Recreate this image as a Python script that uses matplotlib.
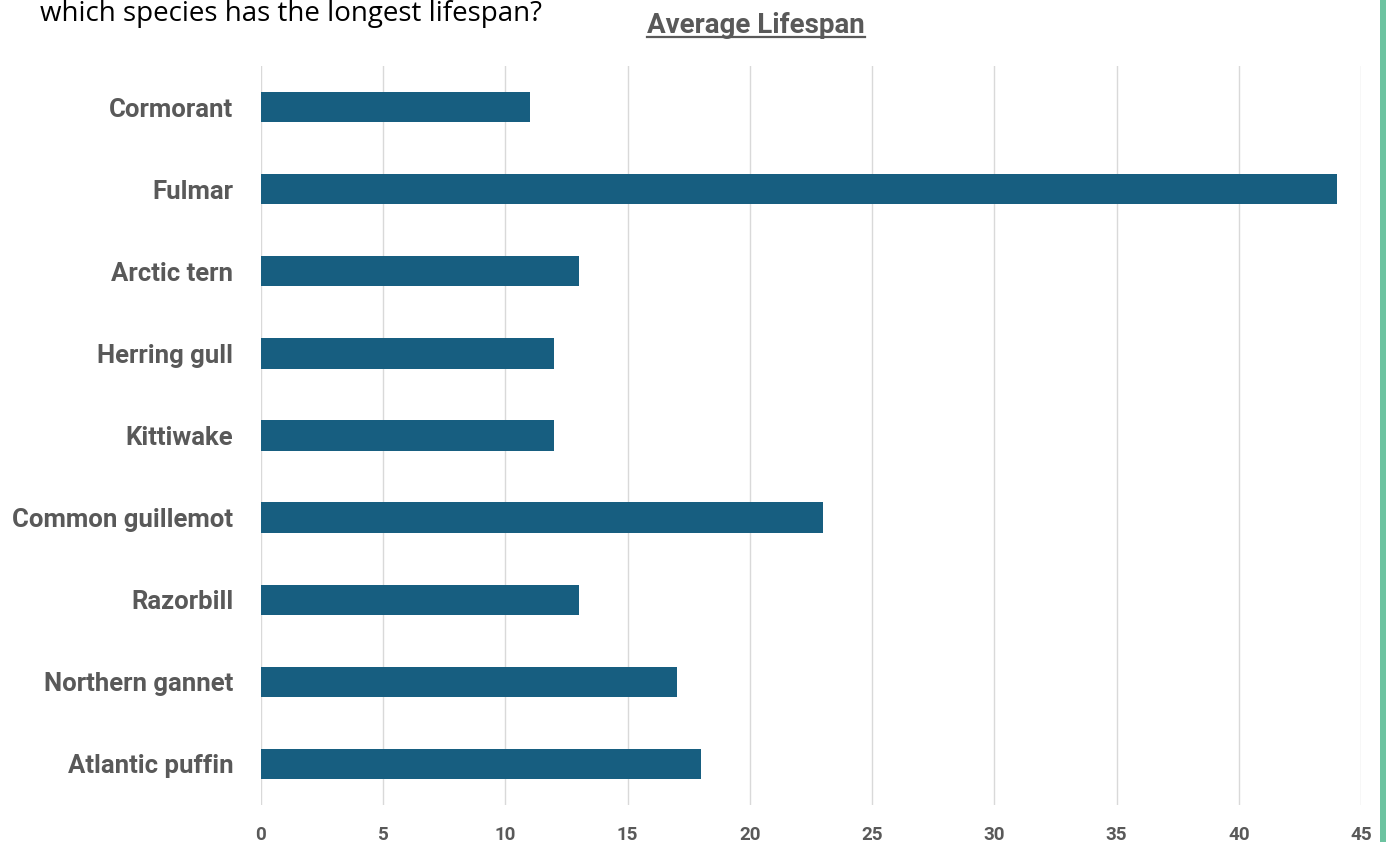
import matplotlib.pyplot as plt
from matplotlib.lines import Line2D
from matplotlib.patches import Rectangle

# data
species = ["Cormorant", "Fulmar", "Arctic tern", "Herring gull", "Kittiwake",
           "Common guillemot", "Razorbill", "Northern gannet", "Atlantic puffin"]
lifespan = [11, 44, 13, 12, 12, 23, 13, 17, 18]
x_ticks = [0, 5, 10, 15, 20, 25, 30, 35, 40, 45]

bar_color = "#175E80"
text_gray = "#595959"
font = ["Roboto", "DejaVu Sans"]

fig = plt.figure(figsize=(13.86, 8.42), dpi=100)
ax = fig.add_axes([261 / 1386, 1 - 805 / 842, 1100 / 1386, 739 / 842])

# first category at the top
pos = list(range(len(species)))[::-1]
ax.barh(pos, lifespan, height=0.37, color=bar_color, zorder=3)

ax.set_xlim(0, 45)
ax.set_ylim(-0.5, len(species) - 0.5)
ax.set_xticks(x_ticks)
ax.set_xticklabels([str(t) for t in x_ticks], fontsize=13.5, fontweight="bold",
                   color=text_gray, family=font)
ax.set_yticks(pos)
ax.set_yticklabels(species, fontsize=18.5, fontweight="bold", color=text_gray, family=font)
ax.tick_params(axis="both", length=0)
ax.tick_params(axis="y", pad=20)
ax.tick_params(axis="x", pad=15)
ax.grid(axis="x", color="#D9D9D9", linewidth=1, zorder=0)
for s in ax.spines.values():
    s.set_visible(False)

# title with an underline drawn beneath it
title = fig.text(756 / 1386, 1 - 33 / 842, "Average Lifespan", ha="center", va="baseline",
                 fontsize=20, fontweight="bold", color=text_gray, family=font)
fig.canvas.draw()
bb = title.get_window_extent().transformed(fig.transFigure.inverted())
y_ul = 1 - 37 / 842
fig.add_artist(Line2D([bb.x0, bb.x1], [y_ul, y_ul],
                      transform=fig.transFigure, color=text_gray, linewidth=1.6))

# question from the top left of the original slide
fig.text(40 / 1386, 1.0, "which species has the longest lifespan?", ha="left",
         va="top", fontsize=20, color="black", family=["Open Sans", "DejaVu Sans"])

# teal strip at the right edge
fig.add_artist(Rectangle((1380 / 1386, 0), 6 / 1386, 1, transform=fig.transFigure,
                         color="#6CC3A0", linewidth=0))

fig.savefig("out.png", dpi=100)
